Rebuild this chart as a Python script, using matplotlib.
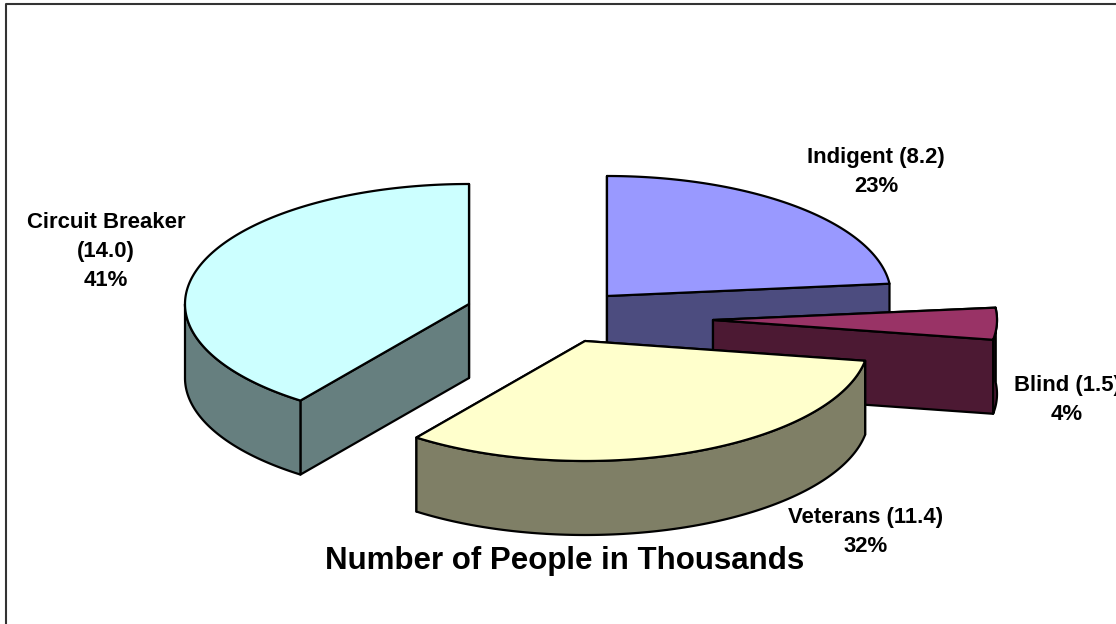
import numpy as np
import matplotlib
matplotlib.use('Agg')
import matplotlib.pyplot as plt
from matplotlib.patches import Polygon

categories = ['Circuit Breaker\n(14.0)', 'Indigent (8.2)', 'Blind (1.5)', 'Veterans (11.4)']
values = [14.0, 8.2, 1.5, 11.4]
percents = ['41%', '23%', '4%', '32%']
topColors = ['#CCFFFF', '#9999FF', '#993366', '#FFFFCC']
sideColors = ['#667F7F', '#4C4C7F', '#4C1933', '#7F7F66']

# exploded centers in pixels, same order as categories
centers = [(469, 304), (607, 296), (713, 320), (585, 341)]
labelPos = [(106, 252), (876, 172), (1067, 400), (866, 532)]
drawOrder = [1, 2, 3, 0]

radiusX = 284
radiusY = 120
depth = 74
edgeWidth = 1.6

plt.rcParams['font.family'] = ['Liberation Sans', 'DejaVu Sans']

fig = plt.figure(figsize=(11.16, 6.24), dpi=100)
ax = fig.add_axes((0, 0, 1, 1))
ax.axis((0, 1116, 624, 0))
ax.axis('off')

# frame, only top and left show up in the picture
ax.plot([5.5, 5.5, 1120], [630, 3.5, 3.5], color='#333333', lw=1.5, clip_on=False)


def rim(center, t):
	return np.array([center[0] + radiusX * np.cos(t), center[1] - radiusY * np.sin(t)])


def addFace(points, color, z):
	ax.add_patch(Polygon(points, closed=True, facecolor=color, edgecolor='k',
		lw=edgeWidth, joinstyle='round', zorder=z))


def drawSlice(center, tStart, tEnd, topColor, sideColor, z):
	# cut faces, the one further back goes first
	for t in sorted([tStart, tEnd], key=lambda a: -np.sin(a)):
		p = rim(center, t)
		addFace([center, p, p + [0, depth], (center[0], center[1] + depth)], sideColor, z)

	# outer wall, front half of the ellipse only
	wall = []
	for k in (-1, 1):
		lo = max(tStart, k * np.pi)
		hi = min(tEnd, (k + 1) * np.pi)
		if lo < hi:
			wall.append((lo, hi))
	# the thin slice on the right keeps its wall up to the back corner
	if tStart < 0 < tEnd:
		wall = [(tStart, tEnd)]
	for lo, hi in wall:
		ts = np.linspace(lo, hi, 120)
		upper = np.column_stack(rim(center, ts))
		lower = upper[::-1] + [0, depth]
		addFace(np.vstack([upper, lower]), sideColor, z)

	# top
	ts = np.linspace(tStart, tEnd, 240)
	addFace(np.vstack([[center], np.column_stack(rim(center, ts))]), topColor, z)


# first slice runs counter clockwise from the top, the others clockwise
total = sum(values)
sweeps = [v / total * 2 * np.pi for v in values]
top = np.pi / 2
spans = [
	(top, top + sweeps[0]),
	(top - sweeps[1], top),
	(top - sweeps[1] - sweeps[2], top - sweeps[1]),
	(top + sweeps[0] - 2 * np.pi, top - sweeps[1] - sweeps[2]),
]

for z, i in enumerate(drawOrder):
	drawSlice(centers[i], spans[i][0], spans[i][1], topColors[i], sideColors[i], z + 2)

for name, pct, pos in zip(categories, percents, labelPos):
	ax.text(pos[0], pos[1], name + '\n' + pct, ha='center', va='center', fontsize=15.9,
		fontweight='bold', linespacing=1.5, zorder=20)

ax.text(565, 561, 'Number of People in Thousands', ha='center', va='center',
	fontsize=22.5, fontweight='bold', zorder=20)

fig.savefig('out.png', dpi=100)
